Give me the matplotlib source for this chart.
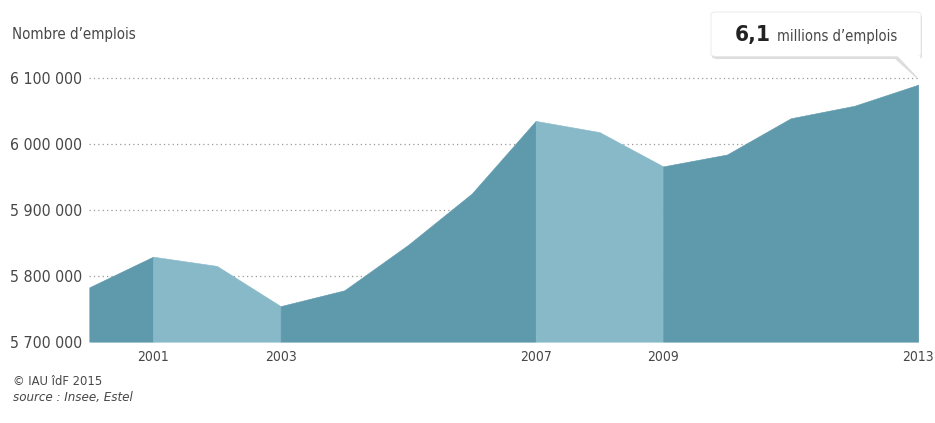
import matplotlib
matplotlib.use("Agg")
import matplotlib.pyplot as plt
from matplotlib.patches import FancyBboxPatch, Polygon
from matplotlib import font_manager

# data
years = [2000, 2001, 2002, 2003, 2004, 2005, 2006, 2007, 2008, 2009, 2010, 2011, 2012, 2013]
emplois = [5782500, 5829000, 5815000, 5754000, 5778000, 5847000, 5925000,
           6035000, 6018000, 5966000, 5984000, 6039000, 6058000, 6090000]
# periods shaded alternately (start year, end year, shade)
periods = [(2000, 2001, "dark"), (2001, 2003, "light"), (2003, 2007, "dark"),
           (2007, 2009, "light"), (2009, 2013, "dark")]
ytick_values = [5700000, 5800000, 5900000, 6000000, 6100000]
ytick_labels = ["5 700 000", "5 800 000", "5 900 000", "6 000 000", "6 100 000"]
xtick_years = [2001, 2003, 2007, 2009, 2013]

colors = {"dark": "#5f99ac", "light": "#87b9c8"}
text_col = "#474747"

# look for a narrow face, the original uses a condensed grotesque
narrow = None
for f in font_manager.fontManager.ttflist:
    fn = f.fname.lower()
    if ("condensed" in fn or "narrow" in fn) and f.style == "normal" and f.weight in (400, "normal", "regular"):
        if "bold" in fn or "light" in fn or "oblique" in fn or "italic" in fn:
            continue
        narrow = f
        break

if narrow is not None:
    plt.rcParams["font.family"] = [narrow.name, "DejaVu Sans"]
    plt.rcParams["font.stretch"] = narrow.stretch
    scale = 1.0
else:
    plt.rcParams["font.family"] = ["Roboto", "DejaVu Sans"]
    scale = 0.85

W, H = 935, 423
fig = plt.figure(figsize=(W / 100, H / 100), dpi=100)
fig.patch.set_facecolor("white")

x0, x1 = 89.3, 918.3
ybase = 341.7
ytop = 45.1
ax = fig.add_axes([x0 / W, (H - ybase) / H, (x1 - x0) / W, (ybase - ytop) / H])
ax.set_xlim(2000, 2013)
ax.set_ylim(5700000, 6150000)
ax.set_facecolor("none")

for y in ytick_values[1:]:
    ax.plot([2000, 2013], [y, y], color="#9a9a9a", linestyle=(0, (1, 2.5)),
            linewidth=0.9, zorder=1, clip_on=False)

for start, end, shade in periods:
    xs = [yr for yr in years if start <= yr <= end]
    ys = [v for yr, v in zip(years, emplois) if start <= yr <= end]
    ax.fill_between(xs, 5700000, ys, facecolor=colors[shade], edgecolor=colors[shade],
                    linewidth=0.4, zorder=2)

for s in ax.spines.values():
    s.set_visible(False)
ax.set_yticks(ytick_values)
ax.set_yticklabels(ytick_labels, fontsize=11.4 * scale, color=text_col)
ax.set_xticks(xtick_years)
ax.set_xticklabels([str(y) for y in xtick_years], fontsize=10 * scale, color=text_col)
ax.tick_params(axis="both", length=0)
ax.tick_params(axis="y", pad=5)
ax.tick_params(axis="x", pad=6)

fig.text(12 / W, 1 - 35 / H, "Nombre d\u2019emplois", fontsize=10.8 * scale, color=text_col,
         va="center", ha="left")
fig.text(13 / W, 1 - 381 / H, "\u00a9 IAU \u00eedF 2015", fontsize=9.3 * scale, color=text_col,
         va="center", ha="left")
fig.text(13 / W, 1 - 397 / H, "source : Insee, Estel", fontsize=9.5 * scale, color=text_col,
         va="center", ha="left", style="italic")

# callout box
bx0, bx1, by0, by1 = 711, 921, 12, 56.5
tf = fig.transFigure
shadow = FancyBboxPatch(((bx0 + 1) / W, 1 - (by1 + 2.5) / H), (bx1 - bx0) / W, (by1 - by0) / H,
                        boxstyle="round,pad=0,rounding_size=0.006", transform=tf,
                        facecolor="#dddddd", edgecolor="none", zorder=5)
fig.add_artist(shadow)
tip_x = ax.transData.transform((years[-1], ytick_values[-1]))
tip = fig.transFigure.inverted().transform(tip_x)
tri_shadow = Polygon([((895 - 1.5) / W, 1 - (by1 + 1) / H), ((bx1 - 3) / W, 1 - (by1 + 1) / H),
                      (tip[0] - 1.5 / W, tip[1] - 0.5 / H)], closed=True, transform=tf,
                     facecolor="#dddddd", edgecolor="none", zorder=5)
fig.add_artist(tri_shadow)
box = FancyBboxPatch((bx0 / W, 1 - by1 / H), (bx1 - bx0) / W, (by1 - by0) / H,
                     boxstyle="round,pad=0,rounding_size=0.006", transform=tf,
                     facecolor="white", edgecolor="#e8e8e8", linewidth=0.6, zorder=6)
fig.add_artist(box)
tri = Polygon([(897 / W, 1 - (by1 - 1) / H), ((bx1 - 0.5) / W, 1 - (by1 - 1) / H), tuple(tip)],
              closed=True, transform=tf, facecolor="white", edgecolor="none", zorder=7)
fig.add_artist(tri)

t61 = fig.text(735 / W, 1 - 41.5 / H, "6,1", fontsize=16.2 * scale, fontweight="bold",
               color="#222222", va="baseline", ha="left", zorder=8)
fig.canvas.draw()
bb = t61.get_window_extent()
fig.text((bb.x1 + 6) / W, 1 - 41.5 / H, "millions d\u2019emplois", fontsize=10.5 * scale,
         color=text_col, va="baseline", ha="left", zorder=8)

fig.savefig("out.png", dpi=100, facecolor="white")
